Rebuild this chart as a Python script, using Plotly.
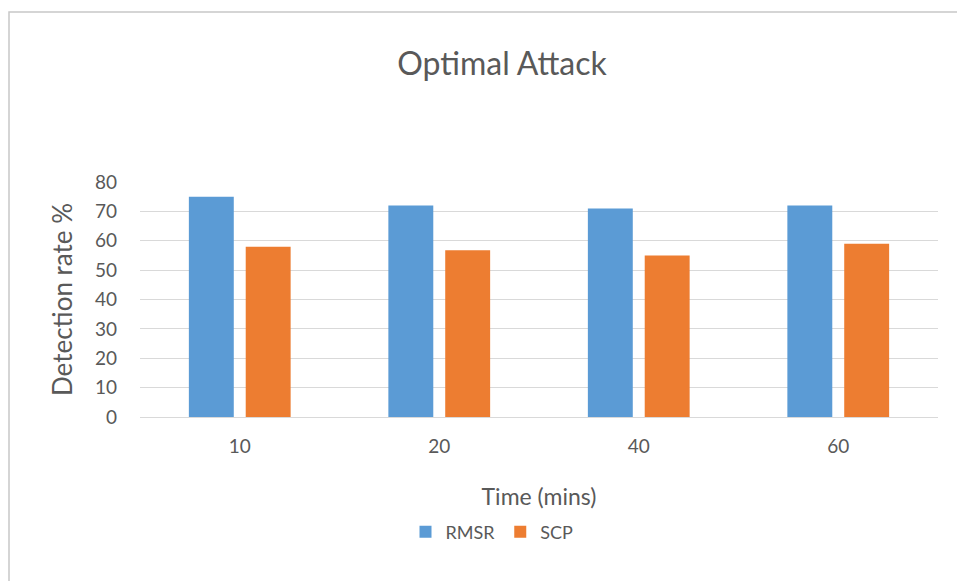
import plotly.graph_objects as go

categories = ["10", "20", "40", "60"]
rmsr = [75, 72, 71, 72]
scp = [58, 56.8, 55, 59]
y_ticks = [0, 10, 20, 30, 40, 50, 60, 70, 80]

FONT = "Lato, 'Open Sans', sans-serif"
GREY = "#595959"

fig = go.Figure()
fig.add_trace(go.Bar(name="RMSR", x=categories, y=rmsr, marker_color="#5B9BD5", marker_line_width=0))
fig.add_trace(go.Bar(name="SCP", x=categories, y=scp, marker_color="#ED7D31", marker_line_width=0))

L, R, T, B = 140, 19, 182, 164
W, H = 957, 581
pw, ph = W - L - R, H - T - B

def px_x(x):
    return (x - L) / pw

def px_y(y):
    return 1 - (y - T) / ph

fig.update_layout(
    width=W, height=H,
    margin=dict(l=L, r=R, t=T, b=B, autoexpand=False),
    paper_bgcolor="white", plot_bgcolor="white",
    barmode="group", bargap=0.43, bargroupgap=0.21,
    font=dict(family=FONT, color=GREY),
    title=dict(text="Optimal Attack", x=px_x(502), xanchor="center", xref="paper",
               y=1 - 64 / H, yanchor="middle", font=dict(size=32, color=GREY, family=FONT)),
    showlegend=True,
    legend=dict(orientation="h", x=492 / W, xanchor="center", xref="container",
                y=1 - 532 / H, yanchor="middle", yref="container",
                font=dict(size=18, color=GREY), itemwidth=30, traceorder="normal"),
    xaxis=dict(
        type="category", showgrid=False, showline=False, zeroline=False, automargin=False,
        ticks="", tickfont=dict(size=19, color=GREY), ticklabelstandoff=16,
        title=dict(text="Time (mins)", font=dict(size=23, color=GREY), standoff=32),
    ),
    yaxis=dict(
        range=[0, 80], tickvals=y_ticks, showgrid=True, gridcolor="#D9D9D9", gridwidth=1,
        zeroline=True, zerolinecolor="#D9D9D9", zerolinewidth=1, showline=False, automargin=False,
        ticks="", tickfont=dict(size=19, color=GREY), ticklabelstandoff=22,
        title=dict(text="Detection rate %", font=dict(size=26, color=GREY), standoff=14),
    ),
    shapes=[
        dict(type="rect", xref="paper", yref="paper",
             x0=px_x(9), x1=px_x(W + 20), y0=px_y(H + 20), y1=px_y(12),
             line=dict(color="#C8C8C8", width=1.5), fillcolor="rgba(0,0,0,0)", layer="below"),
    ],
)

fig.write_html("out.html", config={"displayModeBar": False},
               post_script="document.body.style.margin='0px';")
